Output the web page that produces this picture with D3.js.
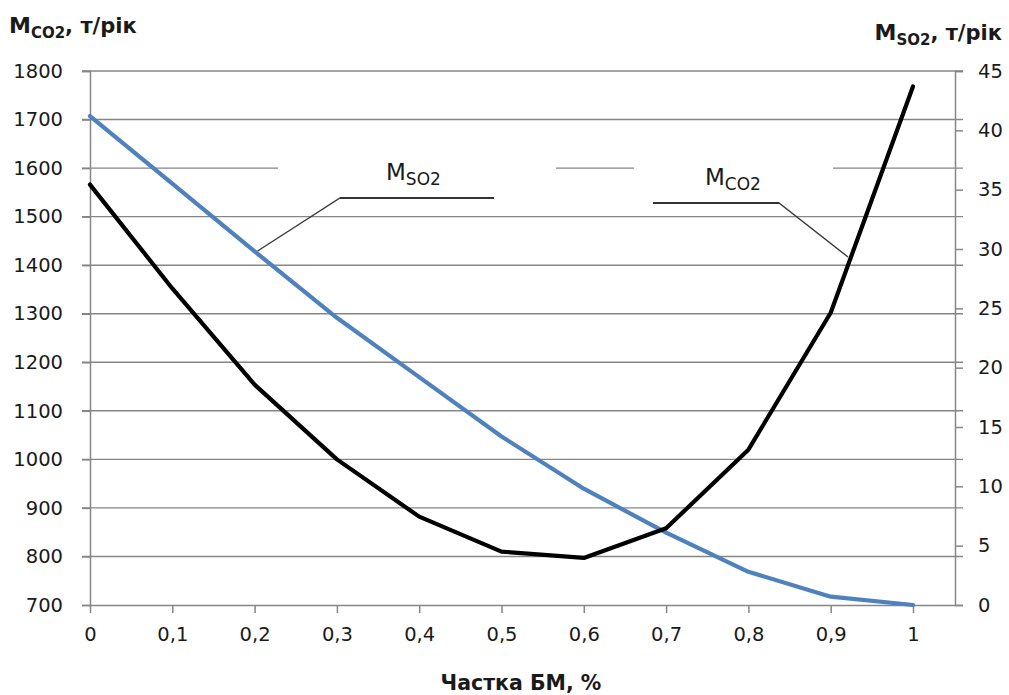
<!DOCTYPE html>
<html><head><meta charset="utf-8">
<script src="https://cdn.jsdelivr.net/npm/d3@7"></script>
<style>body{margin:0;background:#fff}svg{display:block}text{font-family:"DejaVu Sans",sans-serif}</style>
</head><body><svg id="c" width="1009" height="695"></svg>
<script>
const shares = [0,0.1,0.2,0.3,0.4,0.5,0.6,0.7,0.8,0.9,1];
const xTickLabels = ["0","0,1","0,2","0,3","0,4","0,5","0,6","0,7","0,8","0,9","1"];
const co2 = [1566,1352,1154,1000,882,810,797,858,1020,1302,1768];
const so2 = [41.2,35.5,29.8,24.2,19.2,14.2,9.8,6.1,2.8,0.7,0];
const leftTicks = [700,800,900,1000,1100,1200,1300,1400,1500,1600,1700,1800];
const rightTicks = [0,5,10,15,20,25,30,35,40,45];

const svg = d3.select("#c");
const L = 90, R = 955, T = 71, B = 605;
const x = d3.scaleLinear().domain([0,1]).range([L, 913]);
const yL = d3.scaleLinear().domain([700,1800]).range([B, T]);
const yR = d3.scaleLinear().domain([0,45]).range([B, T]);
const axisCol = "#868686";

// gridlines (with gaps where the label boxes sit)
const gaps = [[278,556],[634,833]];
leftTicks.forEach(v => {
  const yy = yL(v);
  if (v === 700) return;
  let segs = [[L-8, R+8]];
  if (v === 1600) segs = [[L-8, gaps[0][0]],[gaps[0][1], gaps[1][0]],[gaps[1][1], R+8]];
  segs.forEach(s => svg.append("line").attr("x1", s[0]).attr("x2", s[1]).attr("y1", yy).attr("y2", yy)
    .attr("stroke", axisCol).attr("stroke-width", 1.4));
});

// axes
const fs = 19.5;
const gL = svg.append("g").attr("transform", `translate(${L},0)`)
  .call(d3.axisLeft(yL).tickValues(leftTicks).tickSize(8).tickPadding(19).tickFormat(d3.format("d")));
const gR = svg.append("g").attr("transform", `translate(${R},0)`)
  .call(d3.axisRight(yR).tickValues(rightTicks).tickSize(8).tickPadding(15).tickFormat(d3.format("d")));
const gB = svg.append("g").attr("transform", `translate(0,${B})`)
  .call(d3.axisBottom(x).tickValues(shares).tickSize(8).tickPadding(14).tickFormat((d,i) => xTickLabels[i]));
gB.select(".domain").attr("d", `M${L},0.5H${R}`);
[gL,gR,gB].forEach(g => {
  g.selectAll(".domain").attr("stroke", axisCol).attr("stroke-width", 1.5);
  g.selectAll(".tick line").attr("stroke", axisCol).attr("stroke-width", 1.5);
  g.selectAll(".tick text").attr("fill", "#1a1a1a").style("font-size", fs + "px").style("font-family", "DejaVu Sans");
});

// series lines
const lineL = d3.line().x((d,i) => x(shares[i])).y(d => yL(d));
const lineR = d3.line().x((d,i) => x(shares[i])).y(d => yR(d));
svg.append("path").attr("d", lineR(so2)).attr("fill", "none").attr("stroke", "#4f81bd")
  .attr("stroke-width", 4.2).attr("stroke-linejoin", "round").attr("stroke-linecap", "round");
svg.append("path").attr("d", lineL(co2)).attr("fill", "none").attr("stroke", "#000")
  .attr("stroke-width", 4.2).attr("stroke-linejoin", "round").attr("stroke-linecap", "round");

// leader lines for labels
svg.append("polyline").attr("points", `494,198 340,198 ${x(0.2)+3},251`).attr("fill","none")
  .attr("stroke", "#3a3a3a").attr("stroke-width", 1.4);
svg.append("line").attr("x1",340).attr("x2",494).attr("y1",198).attr("y2",198).attr("stroke","#333").attr("stroke-width",2.2);
svg.append("polyline").attr("points", `653,203 779,203 848,257`).attr("fill","none")
  .attr("stroke", "#3a3a3a").attr("stroke-width", 1.4);
svg.append("line").attr("x1",653).attr("x2",779).attr("y1",203).attr("y2",203).attr("stroke","#333").attr("stroke-width",2.2);

function subLabel(xx, yy, main, sub, size, subSize, weight, anchor, rest, restSize) {
  const t = svg.append("text").attr("x", xx).attr("y", yy).attr("fill", "#1a1a1a")
    .attr("text-anchor", anchor).style("font-size", size + "px").style("font-weight", weight);
  t.append("tspan").text(main);
  t.append("tspan").attr("dy", size*0.22).style("font-size", subSize + "px").text(sub);
  if (rest) t.append("tspan").attr("dy", -size*0.22).style("font-size", (restSize||size) + "px").text(rest);
  return t;
}
subLabel(386, 180, "M", "SO2", 23, 17, "normal", "start");
subLabel(705, 185, "M", "CO2", 23, 17, "normal", "start");

// axis titles
subLabel(9, 33, "M", "CO2", 22, 15, "bold", "start", ", т/рік", 21);
subLabel(1002, 40, "M", "SO2", 22, 15, "bold", "end", ", т/рік", 21);
svg.append("text").attr("x", 521).attr("y", 690).attr("text-anchor","middle").attr("fill","#1a1a1a")
  .style("font-size","20.5px").style("font-weight","bold").text("Частка БМ, %");
</script></body></html>
